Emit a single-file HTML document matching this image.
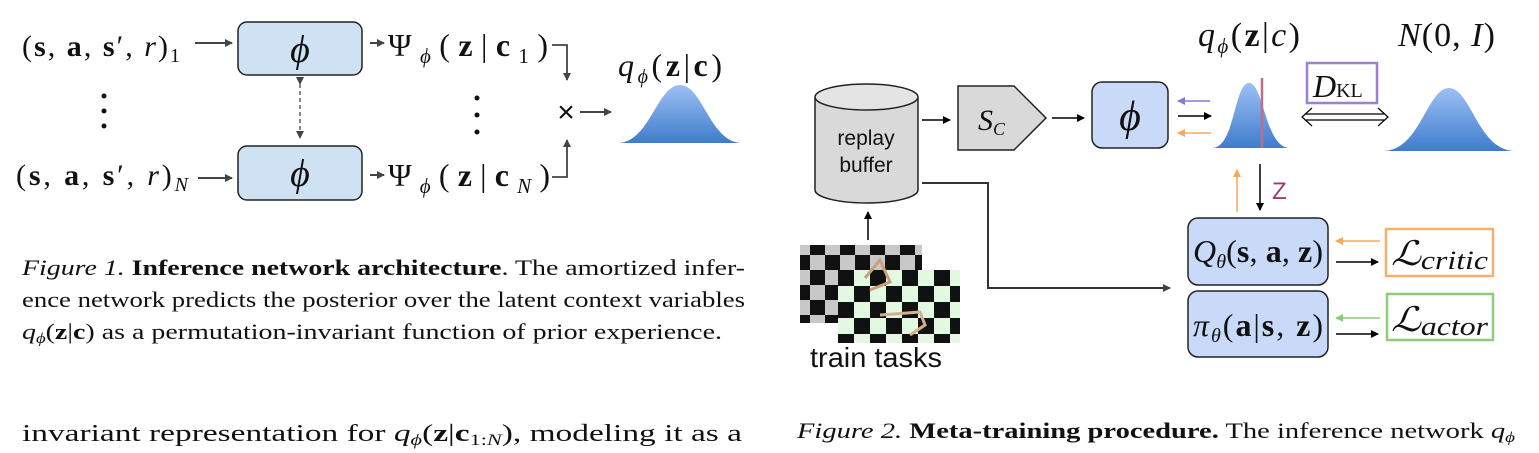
<!DOCTYPE html>
<html><head><meta charset="utf-8"><style>
html,body{margin:0;padding:0;background:#fff;}
svg{display:block;}
text{font-family:"Liberation Serif","Times New Roman",serif;fill:#111;}
.sans{font-family:"Liberation Sans",sans-serif;}
</style></head><body>
<svg width="1539" height="453" viewBox="0 0 1539 453" xmlns="http://www.w3.org/2000/svg">
<defs>
<linearGradient id="g" x1="0" y1="0" x2="0" y2="1"><stop offset="0" stop-color="#9cc0f4"/><stop offset="1" stop-color="#3f7ccc"/></linearGradient>
<marker id="ah" markerWidth="8" markerHeight="8" refX="7" refY="4" orient="auto" markerUnits="userSpaceOnUse"><path d="M0,0 L8,4 L0,8 z" fill="#444"/></marker>
<marker id="ab" markerWidth="8" markerHeight="8" refX="7" refY="4" orient="auto" markerUnits="userSpaceOnUse"><path d="M0,0 L8,4 L0,8 z" fill="#000"/></marker>
<marker id="ao" markerWidth="8" markerHeight="8" refX="7" refY="4" orient="auto" markerUnits="userSpaceOnUse"><path d="M0,0 L8,4 L0,8 z" fill="#f5a95a"/></marker>
<marker id="ap" markerWidth="8" markerHeight="8" refX="7" refY="4" orient="auto" markerUnits="userSpaceOnUse"><path d="M0,0 L8,4 L0,8 z" fill="#8b78d0"/></marker>
<marker id="ag" markerWidth="8" markerHeight="8" refX="7" refY="4" orient="auto" markerUnits="userSpaceOnUse"><path d="M0,0 L8,4 L0,8 z" fill="#8ccc7a"/></marker>
<pattern id="ck1" width="30" height="30" patternUnits="userSpaceOnUse"><rect width="30" height="30" fill="#c8c8c8"/><rect width="15" height="15" fill="#111"/><rect x="15" y="15" width="15" height="15" fill="#111"/></pattern>
<pattern id="ck2" width="32" height="32" patternUnits="userSpaceOnUse" patternTransform="translate(838,270)"><rect width="32" height="32" fill="#e2f8e2"/><rect width="16" height="16" fill="#111"/><rect x="16" y="16" width="16" height="16" fill="#111"/></pattern>
</defs>

<!-- Figure 1 -->
<rect x="238" y="22" width="124" height="53" rx="9" fill="#cfe2f3" stroke="#222" stroke-width="1.5"/>
<rect x="238" y="146" width="124" height="54" rx="9" fill="#cfe2f3" stroke="#222" stroke-width="1.5"/>
<text x="300" y="62" font-size="38" font-style="italic" text-anchor="middle">ϕ</text>
<text x="300" y="186" font-size="38" font-style="italic" text-anchor="middle">ϕ</text>
<text x="22" y="56" font-size="30" textLength="158" lengthAdjust="spacing">(<tspan font-weight="bold">s</tspan>, <tspan font-weight="bold">a</tspan>, <tspan font-weight="bold">s</tspan>′, <tspan font-style="italic">r</tspan>)<tspan font-size="20" dy="6">1</tspan></text>
<text x="16" y="185" font-size="30" textLength="172" lengthAdjust="spacing">(<tspan font-weight="bold">s</tspan>, <tspan font-weight="bold">a</tspan>, <tspan font-weight="bold">s</tspan>′, <tspan font-style="italic">r</tspan>)<tspan font-size="20" font-style="italic" dy="6">N</tspan></text>
<line x1="195" y1="43" x2="232" y2="43" stroke="#444" stroke-width="2" marker-end="url(#ah)"/>
<line x1="198" y1="178" x2="232" y2="178" stroke="#444" stroke-width="2" marker-end="url(#ah)"/>
<line x1="370" y1="43" x2="384" y2="43" stroke="#444" stroke-width="2" marker-end="url(#ah)"/>
<line x1="370" y1="175" x2="384" y2="175" stroke="#444" stroke-width="2" marker-end="url(#ah)"/>
<line x1="300" y1="84" x2="300" y2="138" stroke="#444" stroke-width="1.3" stroke-dasharray="4,3" marker-start="url(#ah)" marker-end="url(#ah)"/>
<text x="388" y="56" font-size="32" textLength="160" lengthAdjust="spacing">Ψ<tspan font-size="21" font-style="italic" dy="7">ϕ</tspan><tspan dy="-7">(<tspan font-weight="bold">z</tspan>|<tspan font-weight="bold">c</tspan></tspan><tspan font-size="21" dy="7">1</tspan><tspan dy="-7">)</tspan></text>
<text x="388" y="186" font-size="32" textLength="162" lengthAdjust="spacing">Ψ<tspan font-size="21" font-style="italic" dy="7">ϕ</tspan><tspan dy="-7">(<tspan font-weight="bold">z</tspan>|<tspan font-weight="bold">c</tspan></tspan><tspan font-size="21" font-style="italic" dy="7">N</tspan><tspan dy="-7">)</tspan></text>
<circle cx="104" cy="96" r="2.5" fill="#111"/><circle cx="104" cy="111" r="2.5" fill="#111"/><circle cx="104" cy="126" r="2.5" fill="#111"/>
<circle cx="477" cy="98" r="2.5" fill="#111"/><circle cx="477" cy="115" r="2.5" fill="#111"/><circle cx="477" cy="132" r="2.5" fill="#111"/>
<polyline points="552,45 567,45 567,80" fill="none" stroke="#444" stroke-width="1.8" marker-end="url(#ah)"/>
<polyline points="552,177 567,177 567,140" fill="none" stroke="#444" stroke-width="1.8" marker-end="url(#ah)"/>
<text x="566" y="122" font-size="30" class="sans" text-anchor="middle">×</text>
<line x1="580" y1="112" x2="611" y2="112" stroke="#444" stroke-width="2" marker-end="url(#ah)"/>
<text x="618" y="76" font-size="32" textLength="104" lengthAdjust="spacing"><tspan font-style="italic">q</tspan><tspan font-size="20" font-style="italic" dy="7">ϕ</tspan><tspan dy="-7">(<tspan font-weight="bold">z</tspan>|<tspan font-weight="bold">c</tspan>)</tspan></text>
<path d="M617,143 C650,143 657,85 680,85 C703,85 710,143 742,143 Z" fill="url(#g)"/>

<text font-size="22.5" x="22" y="275" textLength="723" lengthAdjust="spacingAndGlyphs"><tspan font-style="italic">Figure 1.</tspan> <tspan font-weight="bold">Inference network architecture</tspan>.  The amortized infer-</text>
<text font-size="22.5" x="22" y="307" textLength="723" lengthAdjust="spacingAndGlyphs">ence network predicts the posterior over the latent context variables</text>
<text font-size="22.5" x="22" y="339" textLength="700" lengthAdjust="spacingAndGlyphs"><tspan font-style="italic">q<tspan font-size="15" dy="4">ϕ</tspan></tspan><tspan dy="-4">(<tspan font-weight="bold">z</tspan>|<tspan font-weight="bold">c</tspan>) as a permutation-invariant function of prior experience.</tspan></text>
<text font-size="24" x="22" y="441" textLength="720" lengthAdjust="spacingAndGlyphs">invariant  representation  for  <tspan font-style="italic">q<tspan font-size="16" dy="4">ϕ</tspan></tspan><tspan dy="-4">(<tspan font-weight="bold">z</tspan>|<tspan font-weight="bold">c</tspan></tspan><tspan font-size="16" dy="4">1:<tspan font-style="italic">N</tspan></tspan><tspan dy="-4">),  modeling  it  as  a</tspan></text>

<!-- Figure 2 -->
<path d="M815,97 L815,190 A51.5,13 0 0 0 918,190 L918,97" fill="#d9d9d9" stroke="#222" stroke-width="1.5"/>
<ellipse cx="866.5" cy="97" rx="51.5" ry="13" fill="#e4e4e4" stroke="#222" stroke-width="1.5"/>
<text class="sans" x="866" y="145" font-size="21" text-anchor="middle">replay</text>
<text class="sans" x="866" y="172" font-size="21" text-anchor="middle">buffer</text>
<line x1="922" y1="120" x2="950" y2="120" stroke="#000" stroke-width="1.5" marker-end="url(#ab)"/>
<polygon points="958,86 1014,86 1046,118 1014,150 958,150" fill="#d9d9d9" stroke="#222" stroke-width="1.5"/>
<text x="978" y="130" font-size="30" font-style="italic">S<tspan font-size="18" dy="5">C</tspan></text>
<line x1="1052" y1="118" x2="1084" y2="118" stroke="#000" stroke-width="1.5" marker-end="url(#ab)"/>
<rect x="1092" y="82" width="76" height="66" rx="10" fill="#c9daf8" stroke="#222" stroke-width="1.5"/>
<text x="1130" y="130" font-size="42" font-style="italic" text-anchor="middle">ϕ</text>
<line x1="1210" y1="101" x2="1178" y2="101" stroke="#8b78d0" stroke-width="1.5" marker-end="url(#ap)"/>
<line x1="1178" y1="116" x2="1211" y2="116" stroke="#000" stroke-width="1.5" marker-end="url(#ab)"/>
<line x1="1211" y1="133" x2="1178" y2="133" stroke="#f5a95a" stroke-width="1.5" marker-end="url(#ao)"/>
<text x="1198" y="46" font-size="34" textLength="102" lengthAdjust="spacing"><tspan font-style="italic">q</tspan><tspan font-size="21" font-style="italic" dy="7">ϕ</tspan><tspan dy="-7">(<tspan font-weight="bold">z</tspan>|<tspan font-style="italic">c</tspan>)</tspan></text>
<path d="M1212,148 C1235,148 1234,83 1249,83 C1264,83 1265,148 1290,148 Z" fill="url(#g)"/>
<line x1="1262" y1="78" x2="1262" y2="148" stroke="#c06c8a" stroke-width="2.5"/>
<text x="1398" y="46" font-size="34" textLength="97" lengthAdjust="spacing"><tspan font-style="italic">N</tspan>(0, <tspan font-style="italic">I</tspan>)</text>
<path d="M1383,151 C1420,151 1427,88 1449,88 C1471,88 1478,151 1515,151 Z" fill="url(#g)"/>
<rect x="1307" y="63" width="70" height="40" fill="#fff" stroke="#9b80d4" stroke-width="2.5"/>
<text x="1313" y="97" font-size="32" font-style="italic">D<tspan font-style="normal" font-size="20">KL</tspan></text>
<line x1="1306" y1="114" x2="1384" y2="114" stroke="#000" stroke-width="1.2"/>
<line x1="1306" y1="120" x2="1384" y2="120" stroke="#000" stroke-width="1.2"/>
<polyline points="1312,108 1302,117 1312,126" fill="none" stroke="#000" stroke-width="1.2"/>
<polyline points="1378,108 1388,117 1378,126" fill="none" stroke="#000" stroke-width="1.2"/>
<line x1="1237" y1="212" x2="1237" y2="170" stroke="#f5a95a" stroke-width="1.5" marker-end="url(#ao)"/>
<line x1="1260" y1="164" x2="1260" y2="210" stroke="#000" stroke-width="1.5" marker-end="url(#ab)"/>
<text class="sans" x="1272" y="199" font-size="24" style="fill:#9b3a6a">Z</text>
<rect x="1188" y="218" width="140" height="67" rx="10" fill="#c9daf8" stroke="#222" stroke-width="1.5"/>
<rect x="1188" y="291" width="140" height="66" rx="10" fill="#c9daf8" stroke="#222" stroke-width="1.5"/>
<text x="1193" y="262" font-size="32" textLength="130" lengthAdjust="spacing"><tspan font-style="italic">Q</tspan><tspan font-size="20" font-style="italic" dy="6">θ</tspan><tspan dy="-6">(<tspan font-weight="bold">s</tspan>, <tspan font-weight="bold">a</tspan>, <tspan font-weight="bold">z</tspan>)</tspan></text>
<text x="1193" y="336" font-size="32" textLength="130" lengthAdjust="spacing"><tspan font-style="italic">π</tspan><tspan font-size="20" font-style="italic" dy="6">θ</tspan><tspan dy="-6">(<tspan font-weight="bold">a</tspan>|<tspan font-weight="bold">s</tspan>, <tspan font-weight="bold">z</tspan>)</tspan></text>
<line x1="1380" y1="241" x2="1336" y2="241" stroke="#f5a95a" stroke-width="1.5" marker-end="url(#ao)"/>
<line x1="1336" y1="262" x2="1378" y2="262" stroke="#000" stroke-width="1.5" marker-end="url(#ab)"/>
<line x1="1380" y1="318" x2="1336" y2="318" stroke="#8ccc7a" stroke-width="1.5" marker-end="url(#ag)"/>
<line x1="1336" y1="334" x2="1378" y2="334" stroke="#000" stroke-width="1.5" marker-end="url(#ab)"/>
<rect x="1386" y="229" width="107" height="47" fill="#fff" stroke="#f5b06a" stroke-width="2.5"/>
<rect x="1387" y="294" width="106" height="46" fill="#fff" stroke="#8ccc7a" stroke-width="2.5"/>
<text x="1391" y="265" font-size="34" font-style="italic" textLength="97" lengthAdjust="spacingAndGlyphs">ℒ<tspan font-size="26" dy="4">critic</tspan></text>
<text x="1391" y="331" font-size="34" font-style="italic" textLength="97" lengthAdjust="spacingAndGlyphs">ℒ<tspan font-size="26" dy="4">actor</tspan></text>
<polyline points="922,183 988,183 988,288 1170,288" fill="none" stroke="#333" stroke-width="2" marker-end="url(#ah)"/>
<line x1="868" y1="240" x2="868" y2="212" stroke="#000" stroke-width="1.5" marker-end="url(#ab)"/>
<rect x="800" y="245" width="122" height="78" fill="url(#ck1)"/>
<rect x="838" y="270" width="122" height="73" fill="url(#ck2)"/>
<polyline points="865,278 880,260 890,282 870,290" fill="none" stroke="#c9a07a" stroke-width="3"/>
<polyline points="880,315 920,312 925,325 910,335" fill="none" stroke="#d4b08a" stroke-width="3"/>
<text class="sans" x="810" y="367" font-size="28" textLength="132" lengthAdjust="spacingAndGlyphs">train tasks</text>

<text font-size="22.5" x="797" y="438" textLength="718" lengthAdjust="spacingAndGlyphs"><tspan font-style="italic">Figure 2.</tspan> <tspan font-weight="bold">Meta-training procedure.</tspan>  The inference network <tspan font-style="italic">q<tspan font-size="15" dy="4">ϕ</tspan></tspan></text>
</svg>
</body></html>
